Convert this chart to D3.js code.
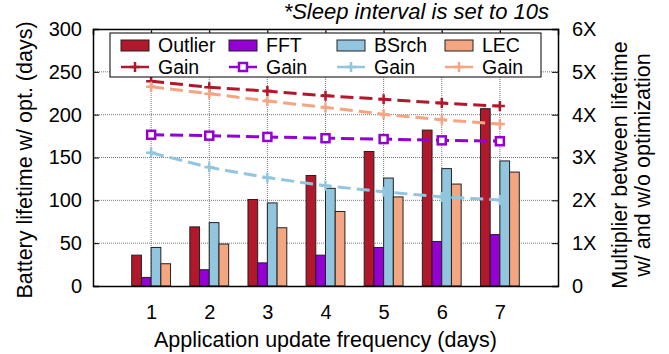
<!DOCTYPE html>
<html>
<head>
<meta charset="utf-8">
<script src="https://cdn.jsdelivr.net/npm/d3@7"></script>
<style>
  body { margin: 0; background: #fff; }
  text { font-family: "Liberation Sans", Arial, sans-serif; }
</style>
</head>
<body>
<div id="chart"></div>
<script>
// update frequency (days)
const categories = [1, 2, 3, 4, 5, 6, 7];
const seriesNames = ['Outlier', 'FFT', 'BSrch', 'LEC'];

// battery lifetime with optimization (days)
const outlierLife = [36, 69, 101, 129, 157, 182, 207];
const fftLife = [10, 19, 27, 36, 45, 52, 60];
const bsrchLife = [45, 74, 97, 114, 126, 137, 146];
const lecLife = [26, 49, 68, 87, 104, 119, 133];

// gain multipliers (right axis)
const outlierGain = [4.78, 4.64, 4.55, 4.44, 4.36, 4.27, 4.20];
const fftGain = [3.53, 3.51, 3.48, 3.45, 3.43, 3.40, 3.38];
const bsrchGain = [3.11, 2.77, 2.53, 2.34, 2.20, 2.08, 2.01];
const lecGain = [4.65, 4.49, 4.32, 4.17, 4.01, 3.88, 3.78];

const leftTicks = [0, 50, 100, 150, 200, 250, 300];
const rightTicks = [0, 1, 2, 3, 4, 5, 6];

const colors = ['#b2182b', '#9400d3', '#92c5de', '#f4a582'];
const lives = [outlierLife, fftLife, bsrchLife, lecLife];
const gains = [outlierGain, fftGain, bsrchGain, lecGain];

const width = 669, height = 354;
const margin = { left: 93, right: 111, top: 29, bottom: 68 };
const innerW = width - margin.left - margin.right;
const innerH = height - margin.top - margin.bottom;

const svg = d3.select('#chart').append('svg')
    .attr('width', width)
    .attr('height', height);

const g = svg.append('g')
    .attr('transform', `translate(${margin.left},${margin.top})`);

const x = d3.scaleLinear().domain([0, 8]).range([0, innerW]);
const y = d3.scaleLinear().domain([0, 300]).range([innerH, 0]);
const y2 = d3.scaleLinear().domain([0, 6]).range([innerH, 0]);

const unit = x(1) - x(0);
const barW = unit * 0.167;

// grid
g.selectAll('.hgrid').data(leftTicks.slice(1, -1)).enter().append('line')
    .attr('x1', 0).attr('x2', innerW)
    .attr('y1', d => y(d)).attr('y2', d => y(d))
    .attr('stroke', '#555').attr('stroke-width', 0.8)
    .attr('stroke-dasharray', '1,1');
g.selectAll('.vgrid').data(categories).enter().append('line')
    .attr('x1', d => x(d)).attr('x2', d => x(d))
    .attr('y1', 0).attr('y2', innerH)
    .attr('stroke', '#555').attr('stroke-width', 0.8)
    .attr('stroke-dasharray', '1,1');

// bars
lives.forEach((vals, s) => {
    g.selectAll('.bar' + s).data(vals).enter().append('rect')
        .attr('x', (d, i) => x(categories[i]) - 2 * barW + s * barW)
        .attr('y', d => y(d))
        .attr('width', barW)
        .attr('height', d => innerH - y(d))
        .attr('fill', colors[s])
        .attr('stroke', '#222')
        .attr('stroke-width', 1);
});

// gain lines
const line = d3.line().x((d, i) => x(categories[i])).y(d => y2(d));

function drawMarker(sel, s, cx, cy) {
    if (s === 1) {
        sel.append('rect')
            .attr('x', cx - 4).attr('y', cy - 4)
            .attr('width', 8).attr('height', 8)
            .attr('fill', '#fff')
            .attr('stroke', colors[s]).attr('stroke-width', 2.5);
    } else {
        sel.append('path')
            .attr('d', `M${cx - 5},${cy}H${cx + 5}M${cx},${cy - 5}V${cy + 5}`)
            .attr('stroke', colors[s]).attr('stroke-width', 2.5);
    }
}

gains.forEach((vals, s) => {
    g.append('path')
        .datum(vals)
        .attr('d', line)
        .attr('fill', 'none')
        .attr('stroke', colors[s])
        .attr('stroke-width', 3)
        .attr('stroke-dasharray', '13,6');
    vals.forEach((d, i) => drawMarker(g, s, x(categories[i]), y2(d)));
});

// axes
const leftAxis = g.append('g')
    .call(d3.axisLeft(y).tickValues(leftTicks).tickSize(-6).tickPadding(11));
const rightAxis = g.append('g')
    .attr('transform', `translate(${innerW},0)`)
    .call(d3.axisRight(y2).tickValues(rightTicks).tickSize(-6).tickPadding(14)
        .tickFormat(d => d === 0 ? '0' : d + 'X'));
const bottomAxis = g.append('g')
    .attr('transform', `translate(0,${innerH})`)
    .call(d3.axisBottom(x).tickValues(categories).tickSize(0).tickPadding(19));
const topAxis = g.append('g')
    .call(d3.axisTop(x).tickValues(categories).tickSize(-6).tickFormat(''));

[leftAxis, rightAxis, bottomAxis, topAxis].forEach(a => {
    a.select('.domain').attr('stroke', '#000').attr('stroke-width', 1.5);
    a.selectAll('text').style('font-size', '20px').attr('fill', '#000');
});

// legend
const legend = svg.append('g').attr('transform', 'translate(110,33)');
legend.append('rect')
    .attr('width', 431).attr('height', 44)
    .attr('fill', '#fff').attr('stroke', '#000').attr('stroke-width', 1);
seriesNames.forEach((name, s) => {
    const lx = 11 + s * 108;
    legend.append('rect')
        .attr('x', lx).attr('y', 7)
        .attr('width', 28).attr('height', 11)
        .attr('fill', colors[s]).attr('stroke', '#222');
    legend.append('text')
        .attr('x', lx + 37).attr('y', 19)
        .style('font-size', '19.5px')
        .text(name);
    legend.append('line')
        .attr('x1', lx).attr('x2', lx + 28)
        .attr('y1', 34).attr('y2', 34)
        .attr('stroke', colors[s]).attr('stroke-width', 2.5);
    drawMarker(legend, s, lx + 14, 34);
    legend.append('text')
        .attr('x', lx + 37).attr('y', 41)
        .style('font-size', '19.5px')
        .text('Gain');
});

// titles
svg.append('text')
    .attr('x', 549).attr('y', 19)
    .attr('text-anchor', 'end')
    .style('font-size', '22px')
    .style('font-style', 'italic')
    .text('*Sleep interval is set to 10s');

svg.append('text')
    .attr('x', x(4) + margin.left).attr('y', 347)
    .attr('text-anchor', 'middle')
    .style('font-size', '21.5px')
    .text('Application update frequency (days)');

svg.append('text')
    .attr('transform', 'translate(32,160) rotate(-90)')
    .attr('text-anchor', 'middle')
    .style('font-size', '21.5px')
    .text('Battery lifetime w/ opt. (days)');

const rt = svg.append('text')
    .attr('transform', 'translate(627,165) rotate(-90)')
    .attr('text-anchor', 'middle')
    .style('font-size', '21.5px');
rt.append('tspan').attr('x', 0).attr('dy', 0).text('Multiplier between lifetime');
rt.append('tspan').attr('x', 0).attr('dy', 23).text('w/ and w/o optimization');
</script>
</body>
</html>
